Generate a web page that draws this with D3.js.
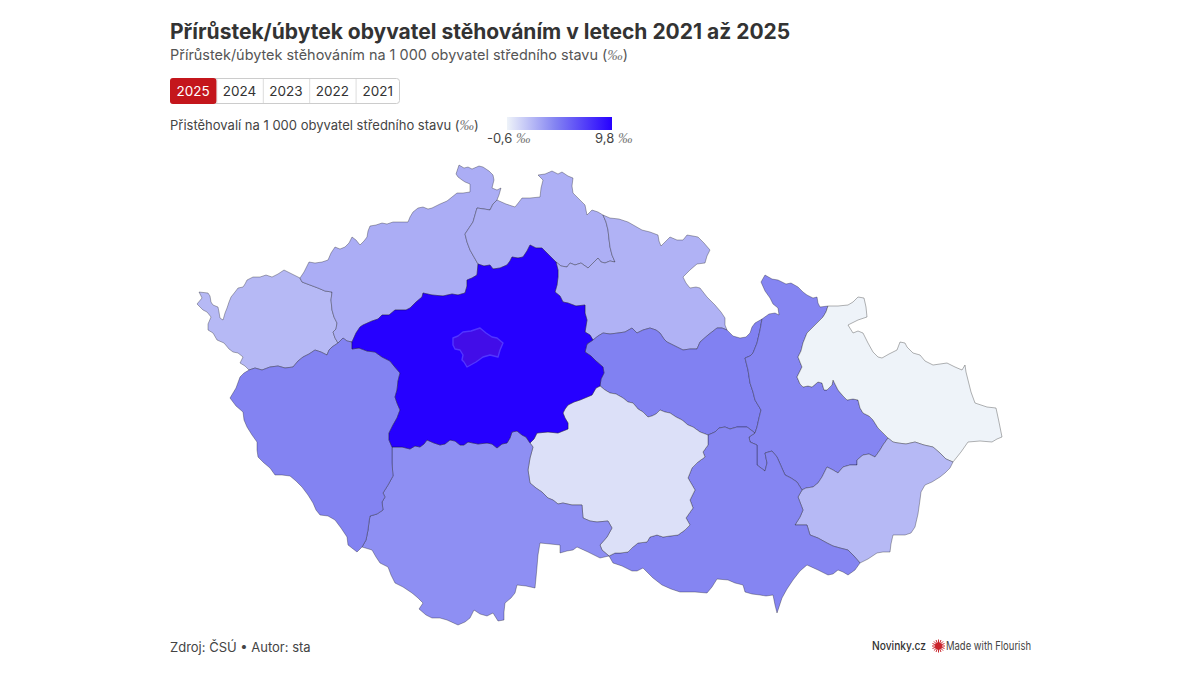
<!DOCTYPE html>
<html lang="cs"><head><meta charset="utf-8">
<script src="https://cdnjs.cloudflare.com/ajax/libs/d3/7.8.5/d3.min.js"></script>
<style>html,body{margin:0;padding:0;background:#fff}svg{display:block}text{font-family:Inter,"Noto Sans",sans-serif}</style>
</head><body><svg id="c" width="1200" height="675"></svg>
<script>
const titleText="Přírůstek/úbytek obyvatel stěhováním v letech 2021 až 2025";
const subtitleText="Přírůstek/úbytek stěhováním na 1 000 obyvatel středního stavu ";
const legendText="Přistěhovalí na 1 000 obyvatel středního stavu ";
const sourceText="Zdroj: ČSÚ • Autor: sta";
const years=["2025","2024","2023","2022","2021"];
const activeYear="2025";
const legendDomain=[-0.6,9.8];
const legendLabels=["-0,6","9,8"];
const colorStops=[-0.6,4.2,9.8];
const colorRange=["#eef3f9","#8383f2","#2600ff"];

// Hranice krajů (mapové jednotky), sdílené úseky
const kvOuter=[[300,278],[292,274],[284,270],[278,274],[272,277],[266,275],[260,277],[253,277],[247,280],[245,284],[243,287],[238,288],[235,292],[231,297],[229,302],[227,308],[225,313],[223,320],[220,318],[219,312],[218,307],[213,305],[211,302],[210,296],[208,293],[199,292],[202,298],[197,304],[203,310],[207,312],[211,317],[208,324],[208,330],[213,333],[217,340],[224,343],[229,349],[233,352],[238,353],[243,357],[240,363],[245,366],[249,370]];
const kvPlzen=[[249,370],[255,368],[262,370],[270,367],[278,366],[285,368],[293,367],[298,361],[303,357],[309,354],[315,350],[321,352],[327,355],[329,350],[332,347],[338,343]];
const kvUsti=[[338,343],[335,338],[333,332],[336,329],[337,323],[334,317],[332,310],[331,300],[332,292],[325,291],[318,288],[310,285],[302,282],[300,278]];
const ustiOuter=[[300,278],[304,272],[309,262],[315,263],[322,262],[328,260],[331,253],[335,247],[340,249],[345,247],[349,243],[352,237],[356,240],[360,245],[364,241],[367,237],[368,231],[370,226],[376,225],[382,223],[387,224],[393,222],[400,222],[408,222],[410,217],[413,212],[418,208],[423,207],[428,209],[432,208],[440,204],[447,201],[452,197],[457,193],[463,193],[470,192],[470,184],[465,182],[462,180],[458,177],[456,174],[459,165],[464,168],[468,167],[472,169],[479,166],[483,167],[489,171],[493,175],[494,180],[492,188],[497,190],[501,188],[499,195],[497,200]];
const ustiLib=[[497,200],[493,204],[490,210],[484,209],[477,208],[475,215],[473,222],[469,228],[465,234],[467,242],[470,250],[474,257],[478,264]];
const ustiStc=[[352,342],[356,333],[360,327],[363,325],[372,321],[378,319],[382,315],[389,315],[395,310],[400,310],[406,310],[410,308],[416,302],[422,297],[423,293],[432,295],[443,296],[452,294],[458,295],[465,293],[467,286],[467,280],[472,278],[477,275],[478,264]];
const plzUsti=[[338,343],[343,338],[347,341],[352,342]];
const libOuter=[[497,200],[506,204],[515,207],[519,202],[522,198],[530,198],[540,197],[541,188],[543,180],[538,175],[545,174],[552,171],[558,174],[562,172],[568,176],[573,178],[572,186],[573,193],[579,199],[585,205],[587,215],[592,210],[598,212],[603,215]];
const libHrad=[[603,215],[606,222],[608,230],[609,239],[610,247],[612,255],[615,262],[610,261],[605,263],[601,262],[598,258],[593,263],[588,268],[581,263],[575,265],[570,263],[567,267],[561,266],[556,262]];
const libStc=[[478,264],[484,266],[490,265],[493,269],[500,268],[507,265],[510,261],[512,257],[518,258],[523,257],[527,251],[530,245],[536,248],[542,248],[547,253],[552,258],[556,262]];
const stcHrad=[[556,262],[558,270],[558,277],[557,285],[555,292],[560,296],[563,302],[568,303],[576,306],[585,305],[585,313],[587,320],[586,326],[585,332],[590,335],[593,340]];
const stcPard=[[593,340],[587,344],[585,352],[591,356],[596,361],[603,367],[604,373],[601,379],[600,386]];
const stcVys=[[600,386],[596,388],[592,395],[580,400],[574,402],[568,405],[565,409],[563,413],[565,418],[568,423],[568,429],[563,431],[558,433],[548,432],[537,433],[534,439],[530,443]];
const stcJc=[[530,443],[526,437],[522,435],[517,431],[512,432],[510,438],[507,443],[502,444],[497,448],[492,444],[487,443],[478,444],[468,442],[464,445],[460,445],[455,441],[450,440],[445,444],[440,445],[434,443],[427,440],[424,444],[420,447],[415,446],[410,449],[402,447],[392,447]];
const stcPlz=[[392,447],[389,440],[389,433],[393,425],[397,418],[400,410],[397,403],[395,397],[397,390],[398,381],[400,373],[394,366],[390,361],[382,357],[375,352],[367,351],[359,348],[352,349],[352,342]];
const hradOuter=[[603,215],[610,218],[619,219],[628,222],[635,226],[642,230],[650,232],[658,235],[659,241],[661,246],[665,242],[670,237],[677,240],[683,240],[687,235],[693,236],[698,237],[704,243],[710,250],[707,256],[705,263],[697,264],[690,270],[683,277],[686,283],[690,288],[696,287],[700,288],[707,297],[715,305],[721,312],[725,318],[725,325],[727,330]];
const hradPard=[[593,340],[598,336],[603,333],[610,334],[618,333],[625,332],[632,328],[637,333],[643,330],[650,328],[656,330],[660,333],[664,339],[667,342],[675,346],[683,350],[690,349],[697,349],[700,342],[708,335],[717,328],[722,328],[727,330]];
const pardOuter=[[727,330],[733,336],[740,338],[746,337],[750,333],[752,327],[755,323],[762,319]];
const pardOl=[[755,433],[757,427],[759,418],[761,410],[758,405],[755,400],[753,392],[750,383],[748,370],[745,358],[750,356],[753,353],[755,348],[757,343],[760,330],[762,319]];
const pardJm=[[708,435],[715,432],[719,428],[725,427],[730,429],[737,427],[747,427],[751,430],[755,433]];
const pardVys=[[600,386],[605,390],[610,393],[616,394],[623,398],[628,402],[633,403],[638,409],[643,412],[648,417],[652,416],[656,414],[660,410],[665,412],[670,413],[676,417],[682,420],[688,425],[693,427],[700,432],[708,435]];
const olOuter=[[762,319],[769,314],[775,313],[779,315],[778,308],[773,304],[770,298],[765,291],[761,282],[765,275],[772,279],[778,280],[786,284],[791,283],[798,287],[803,292],[807,295],[813,298],[817,297],[818,303],[820,307],[828,306]];
const olMs=[[828,306],[826,312],[823,317],[815,325],[807,333],[805,338],[803,343],[801,351],[798,357],[802,367],[797,377],[800,384],[803,387],[808,386],[812,387],[818,382],[822,383],[824,390],[827,390],[832,385],[833,380],[836,386],[838,390],[843,396],[847,400],[853,399],[858,400],[860,408],[863,413],[869,416],[873,420],[878,428],[883,433],[888,438]];
const olZlin=[[888,438],[883,445],[880,450],[875,457],[869,454],[863,455],[857,460],[857,465],[850,465],[843,467],[838,473],[833,470],[827,467],[822,477],[818,483],[813,487],[806,488],[802,490]];
const olJm=[[755,433],[749,437],[750,442],[757,445],[757,455],[757,465],[765,471],[767,463],[765,453],[772,451],[777,457],[781,466],[785,475],[791,478],[797,482],[802,490]];
const msOuter=[[828,306],[838,306],[848,305],[853,302],[858,297],[864,298],[866,307],[867,317],[858,320],[848,325],[853,333],[858,331],[863,333],[868,343],[873,352],[878,357],[882,358],[889,354],[897,350],[900,342],[905,343],[907,347],[913,353],[920,355],[925,361],[933,365],[940,364],[947,363],[955,367],[962,370],[965,365],[966,372],[968,380],[971,392],[975,403],[981,405],[987,407],[996,408],[999,422],[1002,437],[997,439],[992,442],[980,441],[968,442],[961,452],[953,462]];
const msZlin=[[888,438],[893,442],[898,443],[906,444],[915,442],[924,445],[933,447],[940,453],[946,459],[953,462]];
const zlinOuter=[[953,462],[950,468],[945,473],[940,477],[932,482],[925,485],[921,492],[920,500],[918,514],[915,527],[911,533],[905,535],[893,535],[891,544],[890,552],[883,552],[877,553],[868,559],[860,563]];
const jmZlin=[[802,490],[798,497],[803,510],[800,517],[795,525],[807,525],[810,535],[818,538],[827,543],[833,546],[840,548],[848,550],[854,556],[860,563]];
const jmOuter=[[860,563],[855,570],[848,575],[843,572],[838,570],[833,574],[828,575],[818,570],[807,565],[800,571],[793,580],[787,589],[782,598],[777,613],[775,605],[773,595],[766,596],[760,595],[752,594],[745,592],[743,585],[735,583],[728,580],[717,579],[712,587],[707,593],[695,592],[680,592],[671,589],[662,585],[653,578],[643,568],[637,571],[632,571],[622,566],[613,563],[609,556]];
const vysJm=[[609,556],[615,553],[620,553],[628,552],[633,547],[638,543],[647,542],[650,537],[657,535],[663,537],[670,536],[678,535],[685,530],[690,525],[686,518],[693,508],[690,500],[695,490],[688,478],[692,468],[698,462],[705,457],[703,452],[708,445],[708,435]];
const jcVys=[[530,443],[533,447],[530,458],[528,470],[530,483],[536,488],[542,492],[548,498],[553,500],[558,504],[563,503],[572,505],[582,505],[583,518],[590,521],[597,522],[608,521],[612,528],[607,537],[600,545],[602,550],[609,556]];
const jcOuter=[[362,547],[372,550],[376,557],[380,563],[388,567],[391,575],[395,583],[403,587],[412,593],[418,598],[423,603],[419,609],[426,615],[432,618],[440,618],[447,620],[458,625],[465,622],[470,618],[474,610],[480,614],[487,616],[493,613],[498,621],[504,620],[504,612],[505,603],[511,598],[515,593],[517,585],[526,586],[535,588],[536,578],[537,567],[538,555],[540,543],[550,544],[560,545],[560,553],[567,551],[573,550],[577,547],[588,552],[600,558],[609,556]];
const plzJc=[[362,547],[366,540],[368,530],[369,522],[370,516],[377,514],[383,510],[382,502],[385,497],[383,493],[388,485],[393,476],[392,463],[392,447]];
const plzOuter=[[249,370],[244,373],[240,377],[236,388],[230,398],[236,406],[243,412],[244,420],[247,427],[252,435],[257,442],[257,450],[258,457],[264,463],[270,468],[275,475],[282,475],[290,476],[296,481],[302,487],[308,495],[313,503],[316,510],[320,515],[328,516],[335,520],[341,528],[347,537],[348,545],[357,552],[362,547]];
const prahaOutline=[[453,338],[458,336],[463,332],[471,331],[480,328],[486,333],[492,337],[497,338],[503,343],[500,350],[498,357],[490,355],[483,357],[476,362],[467,367],[464,362],[462,360],[463,355],[460,350],[455,349],[453,345],[453,338]];

const r=a=>a.slice().reverse();
const regionNames=["Karlovarský","Ústecký","Liberecký","Královéhradecký","Pardubický","Olomoucký","Moravskoslezský","Zlínský","Jihomoravský","Vysočina","Jihočeský","Plzeňský","Středočeský"];
const regionValues=[1.9,2.4,2.3,2.2,4.3,4.1,-0.6,1.9,4.1,0.2,3.7,4.2,9.8];
const regionRings=[
 [kvOuter,kvPlzen,kvUsti],
 [ustiOuter,ustiLib,r(ustiStc),r(plzUsti),kvUsti],
 [libOuter,libHrad,r(libStc),r(ustiLib)],
 [hradOuter,r(hradPard),r(stcHrad),r(libHrad)],
 [hradPard,pardOuter,r(pardOl),r(pardJm),r(pardVys),r(stcPard)],
 [olOuter,olMs,olZlin,r(olJm),pardOl],
 [msOuter,r(msZlin),r(olMs)],
 [msZlin,zlinOuter,r(jmZlin),r(olZlin)],
 [olJm,jmZlin,jmOuter,vysJm,pardJm],
 [pardVys,r(vysJm),r(jcVys),r(stcVys)],
 [jcOuter,r(jcVys),stcJc,r(plzJc)],
 [plzOuter,plzJc,stcPlz,r(plzUsti),r(kvPlzen)],
 [ustiStc,libStc,stcHrad,stcPard,stcVys,stcJc,stcPlz]
];
const features=regionNames.map((n,i)=>({type:"Feature",properties:{name:n,value:regionValues[i]},
  geometry:{type:"Polygon",coordinates:[regionRings[i].flat()]}}));
const fc={type:"FeatureCollection",features};

const svg=d3.select("#c");
const color=d3.scaleLinear().domain(colorStops).range(colorRange).interpolate(d3.interpolateRgb);
const projection=d3.geoIdentity().fitExtent([[197,165],[1002,625]],fc);
const path=d3.geoPath(projection);

// hlavička
svg.append("text").attr("x",170).attr("y",39).attr("font-size",21).attr("font-weight",700).attr("fill","#333").text(titleText);
const permille=(sel,fs)=>sel.append("tspan").attr("font-family","'Liberation Serif',serif").attr("font-style","italic").attr("font-size",fs).attr("fill","#777").text("‰");
const sub=svg.append("text").attr("x",170).attr("y",60).attr("font-size",14.45).attr("fill","#555").text(subtitleText);
sub.append("tspan").text("(");permille(sub,15.5);sub.append("tspan").text(")");

// tlačítka roků
const bx=d3.scaleBand().domain(years).range([170,402]);
const bg=svg.append("g");
bg.append("rect").attr("x",170.5).attr("y",78.5).attr("width",229).attr("height",25).attr("rx",3).attr("fill","#fff").attr("stroke","#ccc");
bg.selectAll("line").data(years.slice(1)).join("line").attr("x1",d=>bx(d)+.5).attr("x2",d=>bx(d)+.5).attr("y1",79).attr("y2",103).attr("stroke","#ddd");
bg.append("rect").attr("x",bx(activeYear)).attr("y",78).attr("width",bx.bandwidth()).attr("height",26).attr("rx",3).attr("fill","#c4161c");
bg.selectAll("text").data(years).join("text").attr("x",d=>bx(d)+bx.bandwidth()/2-(d==="2021"?1:0)).attr("y",96).attr("text-anchor","middle").attr("font-size",13.5)
  .attr("fill",d=>d===activeYear?"#fff":"#333").text(d=>d);

// legenda
const leg=svg.append("text").attr("x",170).attr("y",130).attr("font-size",13).attr("fill","#444").text(legendText);
leg.append("tspan").text("(");permille(leg,14.5);leg.append("tspan").text(")");
const defs=svg.append("defs");
const lg=defs.append("linearGradient").attr("id","lg");
const lx=d3.scaleLinear().domain(legendDomain).range([507,612]);
lg.selectAll("stop").data(colorStops).join("stop").attr("offset",d=>(lx(d)-507)/105).attr("stop-color",d=>color(d));
lg.insert("stop","stop").attr("offset",0).attr("stop-color","#ffffff");
svg.append("rect").attr("x",lx(legendDomain[0])).attr("y",117).attr("width",lx(legendDomain[1])-lx(legendDomain[0])).attr("height",13).attr("fill","url(#lg)");
[[487,0],[595,1]].forEach(([x,i])=>{
  const t=svg.append("text").attr("x",x).attr("y",143).attr("font-size",13).attr("fill","#444").text(legendLabels[i]+" ");
  permille(t,14.5);
});

// mapa
svg.append("g").selectAll("path").data(features).join("path").attr("d",path)
  .attr("fill",d=>color(d.properties.value)).attr("stroke","#000").attr("stroke-opacity",.5).attr("stroke-width",.6).attr("stroke-linejoin","round");
const praha={type:"Feature",geometry:{type:"Polygon",coordinates:[prahaOutline]}};
svg.append("path").datum(praha).attr("d",path).attr("fill","#420de8").attr("stroke","#5235ff").attr("stroke-width",1.4).attr("stroke-linejoin","round");

// patička
svg.append("text").attr("x",170).attr("y",652).attr("font-size",13).attr("fill","#444").text(sourceText);
svg.append("text").attr("x",872).attr("y",650).attr("font-size",12).attr("font-weight",500).attr("fill","#333").attr("textLength",54).attr("lengthAdjust","spacingAndGlyphs").text("Novinky.cz");
const star=svg.append("g").attr("transform","translate(938.5,646)");
star.selectAll("line").data(d3.range(16)).join("line").attr("x2",d=>6.5*Math.cos(d*Math.PI/8)).attr("y2",d=>6.5*Math.sin(d*Math.PI/8)).attr("stroke","#c9242b").attr("stroke-width",1);
star.append("circle").attr("r",3.5).attr("fill","#c9242b");
svg.append("text").attr("x",946).attr("y",650).attr("font-size",11.5).attr("fill","#444").attr("textLength",85).attr("lengthAdjust","spacingAndGlyphs").text("Made with Flourish");
</script></body></html>
